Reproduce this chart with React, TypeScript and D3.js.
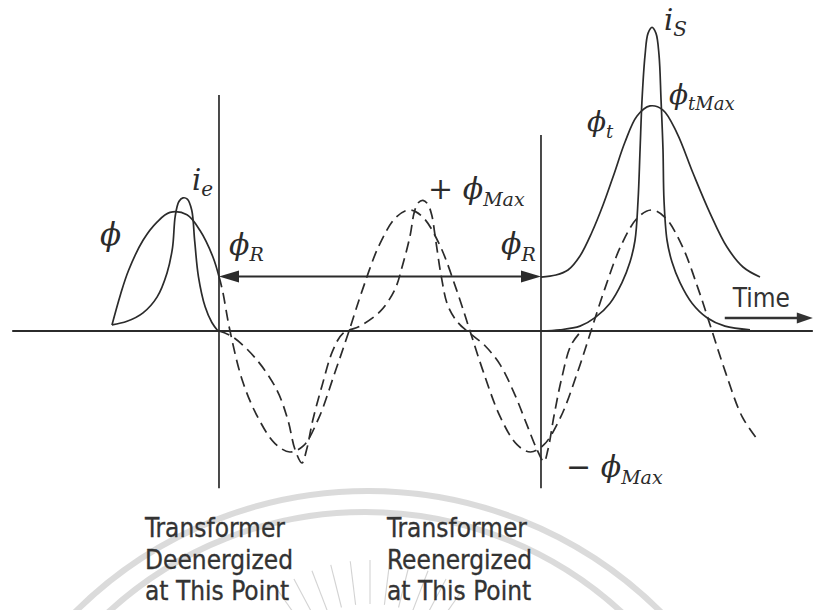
import React from "react";
import * as d3 from "d3";

const WIDTH = 813;
const HEIGHT = 610;

// Time is in electrical degrees, magnitudes in per-unit of the steady-state peak flux.
type Pt = [number, number];

// Flux and exciting current before the transformer is switched off
const PHI_BEFORE: Pt[] = [
  [7.4, 0.05], [20, 0.3], [32, 0.5], [53.6, 0.75], [74.4, 0.9], [93.7, 0.98],
  [119, 0.96], [138.4, 0.83], [157.7, 0.61], [166.6, 0.45],
];
const IE_BEFORE: Pt[] = [
  [7.4, 0.05], [29.8, 0.08], [53.6, 0.15], [74.4, 0.28], [89.3, 0.48],
  [97.5, 0.69], [101.5, 0.95], [107, 1.07], [113, 1.1], [119.5, 1.09],
  [126, 1.0], [130.5, 0.74], [136, 0.45], [146, 0.2], [156, 0.07], [165.1, 0.0],
];

// Steady-state flux the core would have followed (dashed)
const PHI_STEADY: Pt[] = [
  [166.6, 0.45], [172, 0.33], [183, 0], [202, -0.42], [225, -0.72], [250, -0.93],
  [272, -1.0], [292, -0.95], [315, -0.72], [338, -0.36], [360, 0], [380, 0.34],
  [405, 0.71], [430, 0.94], [450, 1.0], [470, 0.94], [495, 0.71], [520, 0.34],
  [540, 0], [560, -0.34], [585, -0.71], [610, -0.94], [630, -1.0], [650, -0.94],
  [675, -0.71], [700, -0.34], [720, 0], [740, 0.34], [765, 0.71], [790, 0.94],
  [810, 1.0], [830, 0.94], [855, 0.71], [880, 0.34], [900, 0], [920, -0.34],
  [945, -0.71], [968, -0.9],
];

// Steady-state exciting current (dashed)
const IE_STEADY: Pt[] = [
  [166.6, 0], [187.4, -0.05], [223.1, -0.24], [252.9, -0.49], [269.3, -0.74],
  [279.7, -0.98], [290, -1.09], [297, -0.98], [306, -0.74], [320, -0.45],
  [336, -0.16], [351, -0.02], [376, 0.04], [406, 0.16], [428, 0.34], [440, 0.55],
  [451, 0.79], [457, 0.98], [463, 1.06], [470, 1.08], [477, 1.05], [483, 0.96],
  [489, 0.75], [497, 0.46], [507, 0.21], [522, 0.07], [540, -0.02], [562, -0.12],
  [585, -0.28], [607, -0.53], [625, -0.78], [639.7, -0.98], [650, -1.08],
  [656, -0.98], [665, -0.7], [676, -0.4], [690, -0.12], [704, -0.01],
];

// Transient flux after re-energizing, starting from the residual flux
const PHI_TRANSIENT: Pt[] = [
  [645.6, 0.446], [667.9, 0.463], [685.8, 0.504], [703.6, 0.62], [721.5, 0.818],
  [737.9, 1.041], [754.3, 1.298], [770.6, 1.562], [788.5, 1.777], [807.8, 1.86],
  [827.1, 1.826], [847.9, 1.636], [871.7, 1.306], [897, 0.975], [922.3, 0.694],
  [946.1, 0.529], [971.4, 0.446],
];

// Inrush current
const I_INRUSH: Pt[] = [
  [645.6, 0], [673.9, 0.01], [703.6, 0.04], [726, 0.11], [748.3, 0.23],
  [766.1, 0.4], [778, 0.57], [785.5, 0.75], [790, 1.08], [793, 1.5],
  [795.9, 1.91], [800.4, 2.28], [804.8, 2.46], [810.8, 2.51], [816.7, 2.46],
  [821.2, 2.28], [824.2, 1.91], [827.1, 1.5], [828.6, 1.08], [833.1, 0.75],
  [840.5, 0.57], [852.4, 0.4], [870.3, 0.23], [892.6, 0.11], [919.3, 0.04], [956.5, 0.01],
];

const T_DEENERGIZE = 166.6;
const T_REENERGIZE = 645.6;
const PHI_R = 0.45;
const TIME_RANGE: [number, number] = [-141, 1050];
const TIME_ARROW: [number, number, number] = [919, 1050, 0.107];
const MARKER_TOPS = [1.95, 1.62];
const MARKER_BOTTOM = -1.3;

const NOTE_DEENERGIZE = ["Transformer", "Deenergized", "at This Point"];
const NOTE_REENERGIZE = ["Transformer", "Reenergized", "at This Point"];

type MathLabel = { t: number; v: number; pre?: string; main: string; sub?: string; size: number; subSize: number };
const MATH_LABELS: MathLabel[] = [
  { t: -10.4, v: 0.71, main: "ϕ", size: 31, subSize: 19 },
  { t: 126.4, v: 1.165, main: "i", sub: "e", size: 29, subSize: 20 },
  { t: 181.5, v: 0.63, main: "ϕ", sub: "R", size: 30, subSize: 19 },
  { t: 477.5, v: 1.09, pre: "+ ", main: "ϕ", sub: "Max", size: 30, subSize: 19 },
  { t: 586, v: 0.636, main: "ϕ", sub: "R", size: 30, subSize: 19 },
  { t: 714, v: 1.65, main: "ϕ", sub: "t", size: 28, subSize: 18 },
  { t: 836, v: 1.876, main: "ϕ", sub: "tMax", size: 28, subSize: 18 },
  { t: 828.6, v: 2.488, main: "i", sub: "S", size: 29, subSize: 20 },
  { t: 682.8, v: -1.207, pre: "− ", main: "ϕ", sub: "Max", size: 30, subSize: 19 },
];

const INK = "#2b2b2b";
const SANS = "'DejaVu Sans Condensed', 'DejaVu Sans', sans-serif";
const SERIF = "'DejaVu Serif', 'Liberation Serif', serif";

export default function App() {
  const x = d3.scaleLinear().domain([0, 360]).range([107, 349]);
  const y = d3.scaleLinear().domain([-1, 1]).range([452, 210]);

  const line = d3
    .line<Pt>()
    .x((d) => x(d[0]))
    .y((d) => y(d[1]))
    .curve(d3.curveCatmullRom.alpha(0.5));

  const axisY = y(0);
  const arrowY = y(PHI_R);
  const xDe = x(T_DEENERGIZE);
  const xRe = x(T_REENERGIZE);
  const head = 20;
  const half = 6;

  const timeY = y(TIME_ARROW[2]);
  const timeX0 = x(TIME_ARROW[0]);
  const timeX1 = x(TIME_ARROW[1]);

  // faint emblem in the background
  const emblemCx = 370;
  const emblemCy = 722;
  const rays = d3.range(-35, 36, 7);

  const solid = { fill: "none", stroke: INK, strokeWidth: 1.7 };
  const dashed = { ...solid, strokeDasharray: "11 6" };

  return (
    <svg
      width={WIDTH}
      height={HEIGHT}
      style={{ position: "absolute", left: 0, top: 0, background: "#fff" }}
    >
      <g opacity={0.9}>
        <circle cx={368} cy={906} r={415} fill="none" stroke="#d8d8d8" strokeWidth={6} />
        <circle cx={365} cy={891} r={379} fill="none" stroke="#d8d8d8" strokeWidth={6} />
        {rays.map((a) => {
          const r = (a * Math.PI) / 180;
          return (
            <line
              key={a}
              x1={emblemCx + Math.sin(r) * 118}
              y1={emblemCy - Math.cos(r) * 118}
              x2={emblemCx + Math.sin(r) * 162}
              y2={emblemCy - Math.cos(r) * 162}
              stroke="#cfcfcf"
              strokeWidth={1.1}
            />
          );
        })}
      </g>

      {/* time axis */}
      <line x1={x(TIME_RANGE[0])} x2={x(TIME_RANGE[1])} y1={axisY} y2={axisY} stroke={INK} strokeWidth={2} />

      {/* switching instants */}
      <line x1={xDe} x2={xDe} y1={y(MARKER_TOPS[0])} y2={y(MARKER_BOTTOM)} stroke={INK} strokeWidth={1.7} />
      <line x1={xRe} x2={xRe} y1={y(MARKER_TOPS[1])} y2={y(MARKER_BOTTOM)} stroke={INK} strokeWidth={1.7} />

      {/* residual flux span */}
      <line x1={xDe + head} x2={xRe - head} y1={arrowY} y2={arrowY} stroke={INK} strokeWidth={2} />
      <polygon
        points={`${xDe},${arrowY} ${xDe + head},${arrowY - half} ${xDe + head},${arrowY + half}`}
        fill={INK}
      />
      <polygon
        points={`${xRe},${arrowY} ${xRe - head},${arrowY - half} ${xRe - head},${arrowY + half}`}
        fill={INK}
      />

      {/* curves */}
      <path d={line(PHI_STEADY) ?? ""} {...dashed} />
      <path d={line(IE_STEADY) ?? ""} {...dashed} />
      <path d={line(PHI_BEFORE) ?? ""} {...solid} />
      <path d={line(IE_BEFORE) ?? ""} {...solid} />
      <path d={line(PHI_TRANSIENT) ?? ""} {...solid} />
      <path d={line(I_INRUSH) ?? ""} {...solid} />

      {/* Time arrow */}
      <line x1={timeX0} x2={timeX1 - 14} y1={timeY} y2={timeY} stroke="#333" strokeWidth={2.6} />
      <polygon
        points={`${timeX1},${timeY} ${timeX1 - 16},${timeY - 5.5} ${timeX1 - 16},${timeY + 5.5}`}
        fill="#333"
      />
      <text x={timeX0 + 8} y={timeY - 11} fontFamily={SANS} fontSize={26} fill="#333">
        Time
      </text>

      {/* math labels */}
      {MATH_LABELS.map((l, i) => (
        <text key={i} x={x(l.t)} y={y(l.v)} fontFamily={SERIF} fontSize={l.size} fill={INK}>
          {l.pre && <tspan fontStyle="normal">{l.pre}</tspan>}
          <tspan fontStyle="italic">{l.main}</tspan>
          {l.sub && (
            <tspan fontStyle="italic" fontSize={l.subSize} dy={l.size * 0.22}>
              {l.sub}
            </tspan>
          )}
        </text>
      ))}

      {/* switching notes */}
      {[
        { lines: NOTE_DEENERGIZE, x0: 145 },
        { lines: NOTE_REENERGIZE, x0: 387 },
      ].map((n, i) => (
        <text key={i} fontFamily={SANS} fontSize={26} fill="#333" stroke="#333" strokeWidth={0.3}>
          {n.lines.map((s, j) => (
            <tspan key={j} x={n.x0} y={537 + j * 31.5}>
              {s}
            </tspan>
          ))}
        </text>
      ))}
    </svg>
  );
}
